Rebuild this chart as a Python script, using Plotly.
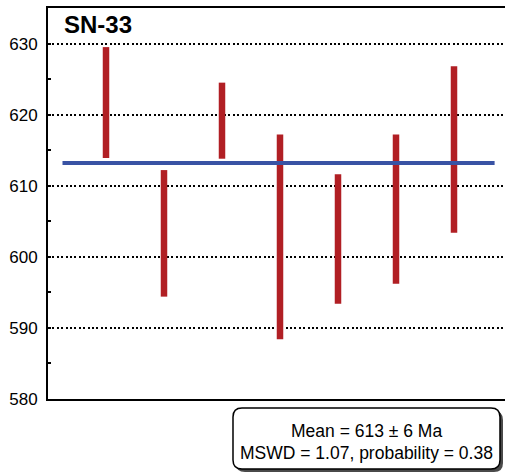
import plotly.graph_objects as go

# ---- data ----
analysis_pos = [1, 2, 3, 4, 5, 6, 7]
age_low = [613.9, 594.4, 613.8, 588.4, 593.4, 596.2, 603.4]
age_high = [629.5, 612.2, 624.5, 617.2, 611.6, 617.2, 626.8]
mean_age = 613.2
mean_line_x = [0.25, 7.7]
y_ticks = [580, 590, 600, 610, 620, 630]
sample_name = "SN-33"
stats_lines = ["Mean = 613 ± 6 Ma", "MSWD = 1.07, probability = 0.38"]

RED = "#b11f24"
BLUE = "#3953a4"
FONT = "Liberation Sans, Arial, sans-serif"

# build segments
xs, ys = [], []
for x, lo, hi in zip(analysis_pos, age_low, age_high):
    xs += [x, x, None]
    ys += [lo, hi, None]

fig = go.Figure()
fig.add_trace(go.Scatter(x=xs, y=ys, mode="lines",
                         line=dict(color=RED, width=6.5),
                         hoverinfo="skip", showlegend=False))
fig.add_trace(go.Scatter(x=mean_line_x, y=[mean_age, mean_age], mode="lines",
                         line=dict(color=BLUE, width=4),
                         hoverinfo="skip", showlegend=False))

W, H = 505, 476
L, R, T, B = 48, 0, 8, 77
pw, ph = W - L - R, H - T - B


def px_x(p):
    return (p - L) / pw


def px_y(p):
    return (H - B - p) / ph


def rounded(x0, y0, x1, y1, r):
    def P(x, y):
        return f"{px_x(x):.5f},{px_y(y):.5f}"
    return (f"M {P(x0 + r, y0)} L {P(x1 - r, y0)} Q {P(x1, y0)} {P(x1, y0 + r)} "
            f"L {P(x1, y1 - r)} Q {P(x1, y1)} {P(x1 - r, y1)} "
            f"L {P(x0 + r, y1)} Q {P(x0, y1)} {P(x0, y1 - r)} "
            f"L {P(x0, y0 + r)} Q {P(x0, y0)} {P(x0 + r, y0)} Z")


bx0, by0, bx1, by1 = 233, 408, 500, 469
shapes = [
    dict(type="path", xref="paper", yref="paper",
         path=rounded(bx0 + 3, by0 + 3, bx1 + 3, by1 + 3, 9),
         fillcolor="#4a4a4a", line=dict(width=0), layer="above"),
    dict(type="path", xref="paper", yref="paper",
         path=rounded(bx0, by0, bx1, by1, 9),
         fillcolor="white", line=dict(color="black", width=1.5), layer="above"),
]

annotations = [
    dict(text=f"<b>{sample_name}</b>", xref="paper", yref="paper",
         x=px_x(62), y=px_y(25), xanchor="left", yanchor="middle",
         showarrow=False, font=dict(family=FONT, size=24, color="black")),
    dict(text=stats_lines[0], xref="paper", yref="paper",
         x=px_x((bx0 + bx1) / 2), y=px_y(431), xanchor="center", yanchor="middle",
         showarrow=False, font=dict(family=FONT, size=17.5, color="black")),
    dict(text=stats_lines[1], xref="paper", yref="paper",
         x=px_x((bx0 + bx1) / 2), y=px_y(453), xanchor="center", yanchor="middle",
         showarrow=False, font=dict(family=FONT, size=17.5, color="black")),
]

fig.update_layout(
    width=W, height=H,
    margin=dict(l=L, r=R, t=T, b=B, pad=0),
    paper_bgcolor="white", plot_bgcolor="white",
    shapes=shapes, annotations=annotations,
    xaxis=dict(range=[0, pw / 58], showgrid=False, zeroline=False,
               showticklabels=False, ticks="",
               showline=True, linecolor="black", linewidth=2, mirror=True),
    yaxis=dict(range=[580, 635], tickvals=y_ticks, ticks="inside", ticklen=3,
               tickcolor="black", tickwidth=1.5,
               showgrid=True, gridcolor="black", gridwidth=1.8, griddash="2px,2.4px",
               zeroline=False, showline=True, linecolor="black", linewidth=2,
               tickfont=dict(family=FONT, size=17, color="black"),
               ticklabelstandoff=5,
               minor=dict(dtick=5, tick0=580, ticks="inside", ticklen=3,
                          tickcolor="black", tickwidth=1.5, showgrid=False)),
    font=dict(family=FONT),
)

fig.write_html(
    "out.html",
    config={"displayModeBar": False},
    post_script="document.body.style.margin='0';document.body.style.overflow='hidden';",
)
